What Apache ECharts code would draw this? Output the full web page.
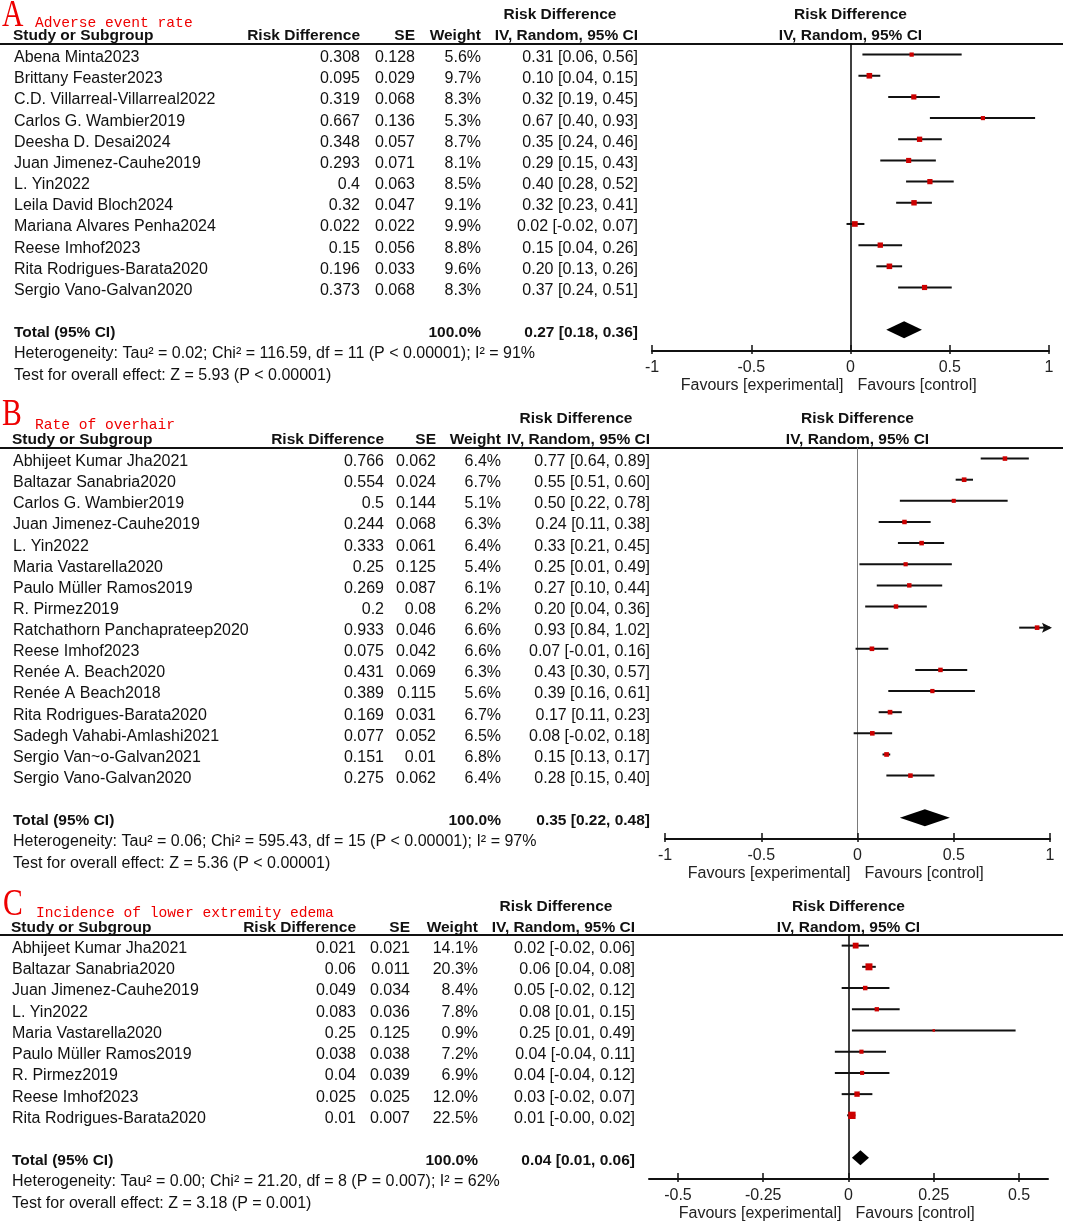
<!DOCTYPE html>
<html><head><meta charset="utf-8">
<script src="https://cdn.jsdelivr.net/npm/echarts@6/dist/echarts.min.js"></script>
<style>html,body{margin:0;padding:0;background:#fff}#c{width:1065px;height:1228px}</style>
</head><body><div id="c"></div><script>
// ---------- Panel A: Adverse event rate ----------
const A_title = 'Adverse event rate';
const A_studies = ['Abena Minta2023','Brittany Feaster2023','C.D. Villarreal-Villarreal2022','Carlos G. Wambier2019','Deesha D. Desai2024','Juan Jimenez-Cauhe2019','L. Yin2022','Leila David Bloch2024','Mariana Alvares Penha2024','Reese Imhof2023','Rita Rodrigues-Barata2020','Sergio Vano-Galvan2020'];
const A_rd = [0.308,0.095,0.319,0.667,0.348,0.293,0.4,0.32,0.022,0.15,0.196,0.373];
const A_se = [0.128,0.029,0.068,0.136,0.057,0.071,0.063,0.047,0.022,0.056,0.033,0.068];
const A_weight = [5.6,9.7,8.3,5.3,8.7,8.1,8.5,9.1,9.9,8.8,9.6,8.3];
const A_est = [0.31,0.10,0.32,0.67,0.35,0.29,0.40,0.32,0.02,0.15,0.20,0.37];
const A_lo = [0.06,0.04,0.19,0.40,0.24,0.15,0.28,0.23,-0.02,0.04,0.13,0.24];
const A_hi = [0.56,0.15,0.45,0.93,0.46,0.43,0.52,0.41,0.07,0.26,0.26,0.51];
const A_total = [0.27,0.18,0.36];
const A_het = 'Heterogeneity: Tau\u00b2 = 0.02; Chi\u00b2 = 116.59, df = 11 (P < 0.00001); I\u00b2 = 91%';
const A_test = 'Test for overall effect: Z = 5.93 (P < 0.00001)';
const A_ticks = [-1,-0.5,0,0.5,1];

// ---------- Panel B: Rate of overhair ----------
const B_title = 'Rate of overhair';
const B_studies = ['Abhijeet Kumar Jha2021','Baltazar Sanabria2020','Carlos G. Wambier2019','Juan Jimenez-Cauhe2019','L. Yin2022','Maria Vastarella2020','Paulo M\u00fcller Ramos2019','R. Pirmez2019','Ratchathorn Panchaprateep2020','Reese Imhof2023','Ren\u00e9e A. Beach2020','Ren\u00e9e A Beach2018','Rita Rodrigues-Barata2020','Sadegh Vahabi-Amlashi2021','Sergio Van~o-Galvan2021','Sergio Vano-Galvan2020'];
const B_rd = [0.766,0.554,0.5,0.244,0.333,0.25,0.269,0.2,0.933,0.075,0.431,0.389,0.169,0.077,0.151,0.275];
const B_se = [0.062,0.024,0.144,0.068,0.061,0.125,0.087,0.08,0.046,0.042,0.069,0.115,0.031,0.052,0.01,0.062];
const B_weight = [6.4,6.7,5.1,6.3,6.4,5.4,6.1,6.2,6.6,6.6,6.3,5.6,6.7,6.5,6.8,6.4];
const B_est = [0.77,0.55,0.50,0.24,0.33,0.25,0.27,0.20,0.93,0.07,0.43,0.39,0.17,0.08,0.15,0.28];
const B_lo = [0.64,0.51,0.22,0.11,0.21,0.01,0.10,0.04,0.84,-0.01,0.30,0.16,0.11,-0.02,0.13,0.15];
const B_hi = [0.89,0.60,0.78,0.38,0.45,0.49,0.44,0.36,1.02,0.16,0.57,0.61,0.23,0.18,0.17,0.40];
const B_total = [0.35,0.22,0.48];
const B_het = 'Heterogeneity: Tau\u00b2 = 0.06; Chi\u00b2 = 595.43, df = 15 (P < 0.00001); I\u00b2 = 97%';
const B_test = 'Test for overall effect: Z = 5.36 (P < 0.00001)';
const B_ticks = [-1,-0.5,0,0.5,1];

// ---------- Panel C: Incidence of lower extremity edema ----------
const C_title = 'Incidence of lower extremity edema';
const C_studies = ['Abhijeet Kumar Jha2021','Baltazar Sanabria2020','Juan Jimenez-Cauhe2019','L. Yin2022','Maria Vastarella2020','Paulo M\u00fcller Ramos2019','R. Pirmez2019','Reese Imhof2023','Rita Rodrigues-Barata2020'];
const C_rd = [0.021,0.06,0.049,0.083,0.25,0.038,0.04,0.025,0.01];
const C_se = [0.021,0.011,0.034,0.036,0.125,0.038,0.039,0.025,0.007];
const C_weight = [14.1,20.3,8.4,7.8,0.9,7.2,6.9,12.0,22.5];
const C_est = [0.02,0.06,0.05,0.08,0.25,0.04,0.04,0.03,0.01];
const C_lo = [-0.02,0.04,-0.02,0.01,0.01,-0.04,-0.04,-0.02,-0.004];
const C_hi = [0.06,0.08,0.12,0.15,0.49,0.11,0.12,0.07,0.02];
const C_total = [0.035,0.01,0.06];
const C_het = 'Heterogeneity: Tau\u00b2 = 0.00; Chi\u00b2 = 21.20, df = 8 (P = 0.007); I\u00b2 = 62%';
const C_test = 'Test for overall effect: Z = 3.18 (P = 0.001)';
const C_ticks = [-0.5,-0.25,0,0.25,0.5];

// ---------- layout (positions / styles only) ----------
const FONT = "'Liberation Sans', Arial, sans-serif";
const panels = [
  {letter:'A', title:A_title, studies:A_studies, rd:A_rd, se:A_se, w:A_weight, est:A_est, lo:A_lo, hi:A_hi, total:A_total, het:A_het, test:A_test, ticks:A_ticks,
   L:{top:44, bottom:351, left:652, right:1049, xmin:-1, xmax:1, topHdrY:15, hdrY:36, letterX:2, letterY:16, titleX:35, titleY:23,
      nameX:14, rdX:360, seX:415, wX:481, ciX:638, ciHdrC:560, zero:'#000', zeroW:1.5, k:1.8, dH:8.5}},
  {letter:'B', title:B_title, studies:B_studies, rd:B_rd, se:B_se, w:B_weight, est:B_est, lo:B_lo, hi:B_hi, total:B_total, het:B_het, test:B_test, ticks:B_ticks,
   L:{top:448, bottom:839, left:665, right:1050, xmin:-1, xmax:1, topHdrY:419, hdrY:440, letterX:2, letterY:415, titleX:35, titleY:425,
      nameX:13, rdX:384, seX:436, wX:501, ciX:650, ciHdrC:576, zero:'#7a7a7a', zeroW:1, k:1.8, dH:8.5}},
  {letter:'C', title:C_title, studies:C_studies, rd:C_rd, se:C_se, w:C_weight, est:C_est, lo:C_lo, hi:C_hi, total:C_total, het:C_het, test:C_test, ticks:C_ticks,
   L:{top:935, bottom:1179, left:649, right:1048, xmin:-0.585, xmax:0.585, topHdrY:907, hdrY:928, letterX:3, letterY:905, titleX:36, titleY:913,
      nameX:12, rdX:356, seX:410, wX:478, ciX:635, ciHdrC:556, zero:'#000', zeroW:1.5, k:1.55, dH:7.5}}
];

const f2 = v => v.toFixed(2);
const ciStr = (e,l,h) => f2(e) + ' [' + f2(l) + ', ' + f2(h) + ']';

const grids = [], xAxes = [], yAxes = [], series = [], graphics = [];

function txt(x, y, text, opt) {
  opt = opt || {};
  return {type:'text', x:x, y:y, silent:true, scaleX: opt.scaleX || 1, style:{
    text:text, fill: opt.color || '#111',
    font: (opt.bold ? 'bold ' : '') + (opt.size || 16) + 'px ' + (opt.family || FONT),
    textAlign: opt.align || 'left', align: opt.align || 'left',
    textVerticalAlign:'middle', verticalAlign:'middle'}};
}

panels.forEach((p, i) => {
  const L = p.L, n = p.studies.length;
  const yMax = n + 2;
  grids.push({left:L.left, top:L.top, width:L.right - L.left, height:L.bottom - L.top, containLabel:false});
  xAxes.push({type:'value', gridIndex:i, min:L.xmin, max:L.xmax, position:'bottom',
    axisLine:{onZero:false, lineStyle:{color:'#111', width:2}},
    axisTick:{inside:true, length:6, customValues:p.ticks, lineStyle:{color:'#111', width:1.5}},
    axisLabel:{customValues:p.ticks, margin:9, color:'#222', fontSize:16, fontFamily:FONT, formatter:v => String(v)},
    splitLine:{show:false}});
  xAxes.push({type:'value', gridIndex:i, min:L.xmin, max:L.xmax, position:'bottom',
    axisLine:{show:false, onZero:false}, axisLabel:{show:false}, splitLine:{show:false},
    axisTick:{inside:false, length:3, customValues:p.ticks, lineStyle:{color:'#111', width:1.5}}});
  yAxes.push({type:'value', gridIndex:i, min:-0.5, max:yMax, inverse:true,
    axisLine:{show:true, onZero:true, lineStyle:{color:L.zero, width:L.zeroW}},
    axisTick:{show:false}, axisLabel:{show:false}, splitLine:{show:false}});

  // study CIs and squares
  const ciData = p.studies.map((s, j) => [p.rd[j], j, p.lo[j], p.hi[j], p.w[j]]);
  series.push({type:'custom', xAxisIndex:2*i, yAxisIndex:i, clip:false, silent:true, data:ciData,
    renderItem:(params, api) => {
      const rd = api.value(0), row = api.value(1), lo = api.value(2), hi = api.value(3), w = api.value(4);
      const c = api.coord([rd, row]);
      const a = api.coord([Math.max(lo, L.xmin), row]);
      const b = api.coord([Math.min(hi, L.xmax), row]);
      const s = Math.max(2.5, L.k * Math.sqrt(w));
      const ch = [
        {type:'line', shape:{x1:a[0], y1:a[1], x2:b[0], y2:b[1]}, style:{stroke:'#111', lineWidth:2}},
        {type:'rect', shape:{x:c[0]-s/2, y:c[1]-s/2, width:s, height:s}, style:{fill:'#cc0000'}}
      ];
      if (hi > L.xmax) ch.push({type:'polygon', shape:{points:[[b[0]+2,b[1]],[b[0]-8,b[1]-5],[b[0]-6,b[1]],[b[0]-8,b[1]+5]]}, style:{fill:'#111'}});
      return {type:'group', children:ch};
    }});
  // total diamond
  series.push({type:'custom', xAxisIndex:2*i, yAxisIndex:i, clip:false, silent:true,
    data:[[p.total[0], n + 1, p.total[1], p.total[2]]],
    renderItem:(params, api) => {
      const row = api.value(1);
      const c = api.coord([api.value(0), row]), a = api.coord([api.value(2), row]), b = api.coord([api.value(3), row]);
      return {type:'polygon', shape:{points:[[a[0],c[1]],[c[0],c[1]-L.dH],[b[0],c[1]],[c[0],c[1]+L.dH]]}, style:{fill:'#000'}};
    }});
  // table text rows (study rows, total, heterogeneity, test)
  const tblData = [];
  for (let j = 0; j < n; j++) tblData.push([0, j, j]);
  tblData.push([0, n + 1, -1]); tblData.push([0, n + 2, -2]); tblData.push([0, n + 3, -3]);
  series.push({type:'custom', xAxisIndex:2*i, yAxisIndex:i, clip:false, silent:true, data:tblData,
    renderItem:(params, api) => {
      const row = api.value(1), k = api.value(2);
      const y = api.coord([0, row])[1] + 3;
      if (k >= 0) {
        return {type:'group', children:[
          txt(L.nameX, y, p.studies[k]),
          txt(L.rdX, y, String(p.rd[k]), {align:'right'}),
          txt(L.seX, y, String(p.se[k]), {align:'right'}),
          txt(L.wX, y, p.w[k].toFixed(1) + '%', {align:'right'}),
          txt(L.ciX, y, ciStr(p.est[k], p.lo[k], p.hi[k]), {align:'right'})
        ]};
      }
      if (k === -1) return {type:'group', children:[
        txt(L.nameX, y, 'Total (95% CI)', {bold:true, size:15.5}),
        txt(L.wX, y, '100.0%', {bold:true, size:15.5, align:'right'}),
        txt(L.ciX, y, ciStr(p.total[0], p.total[1], p.total[2]), {bold:true, size:15.5, align:'right'})
      ]};
      if (k === -2) return txt(L.nameX, y, p.het);
      return txt(L.nameX, y, p.test);
    }});

  // headers, titles, rules, favours labels
  const zeroPx = L.left + (0 - L.xmin) / (L.xmax - L.xmin) * (L.right - L.left);
  const H = {bold:true, size:15.5};
  graphics.push(txt(L.letterX, L.letterY, p.letter, {color:'#ee0000', size:38, family:"'Liberation Serif', 'DejaVu Serif', serif", scaleX:0.78}));
  graphics.push(txt(L.titleX, L.titleY, p.title, {color:'#ee0000', size:14.6, family:"'Liberation Mono', 'DejaVu Sans Mono', monospace"}));
  graphics.push(txt(L.ciHdrC, L.topHdrY, 'Risk Difference', Object.assign({align:'center'}, H)));
  graphics.push(txt(L.nameX - 1, L.hdrY, 'Study or Subgroup', H));
  graphics.push(txt(L.rdX, L.hdrY, 'Risk Difference', Object.assign({align:'right'}, H)));
  graphics.push(txt(L.seX, L.hdrY, 'SE', Object.assign({align:'right'}, H)));
  graphics.push(txt(L.wX, L.hdrY, 'Weight', Object.assign({align:'right'}, H)));
  graphics.push(txt(L.ciX, L.hdrY, 'IV, Random, 95% CI', Object.assign({align:'right'}, H)));
  graphics.push(txt(zeroPx, L.topHdrY, 'Risk Difference', Object.assign({align:'center'}, H)));
  graphics.push(txt(zeroPx, L.hdrY, 'IV, Random, 95% CI', Object.assign({align:'center'}, H)));
  graphics.push({type:'line', silent:true, shape:{x1:0, y1:L.top, x2:1063, y2:L.top}, style:{stroke:'#111', lineWidth:2}});
  graphics.push(txt(zeroPx - 7, L.bottom + 35, 'Favours [experimental]', {align:'right', color:'#222'}));
  graphics.push(txt(zeroPx + 7, L.bottom + 35, 'Favours [control]', {color:'#222'}));
});

const chart = echarts.init(document.getElementById('c'), null, {renderer:'canvas'});
chart.setOption({
  animation:false, backgroundColor:'#fff',
  grid:grids, xAxis:xAxes, yAxis:yAxes, series:series,
  graphic:{elements:graphics}
});
</script></body></html>
